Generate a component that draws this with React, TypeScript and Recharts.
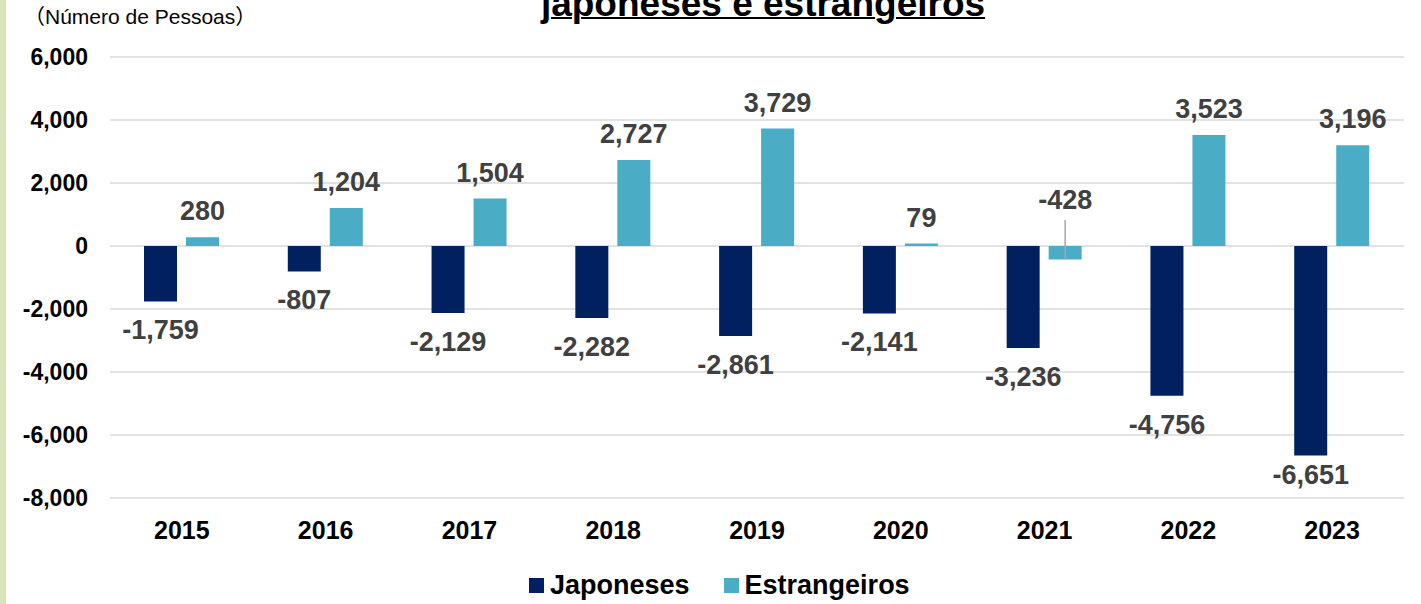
import { Bar, BarChart, CartesianGrid, LabelList, XAxis, YAxis } from "recharts";

const years = ["2015", "2016", "2017", "2018", "2019", "2020", "2021", "2022", "2023"];
const japoneses = [-1759, -807, -2129, -2282, -2861, -2141, -3236, -4756, -6651];
const estrangeiros = [280, 1204, 1504, 2727, 3729, 79, -428, 3523, 3196];
const yTicks = [-8000, -6000, -4000, -2000, 0, 2000, 4000, 6000];
const seriesNames = ["Japoneses", "Estrangeiros"];

const data = years.map((year, i) => ({ year, japoneses: japoneses[i], estrangeiros: estrangeiros[i] }));

const NAVY = "#002060";
const TEAL = "#4bacc6";
const COLORS = [NAVY, TEAL];
const FONT = '"Liberation Sans", Arial, sans-serif';
const PLOT_BOTTOM = 498;

const fmt = (v: number) => v.toLocaleString("en-US");

function ValueLabel(props: any) {
  const { x, y, width, height, value, leader } = props;
  const top = Math.min(y, y + height);
  const bottom = Math.max(y, y + height);
  const cx = x + width / 2;
  const common = {
    x: cx,
    textAnchor: "middle" as const,
    dominantBaseline: "central" as const,
    fontFamily: FONT,
    fontSize: 27,
    fontWeight: 700,
    fill: "#404040",
  };
  if (value >= 0) {
    return <text {...common} y={top - 26}>{fmt(value)}</text>;
  }
  if (leader) {
    // small negative bar: label pulled above the zero line with a leader line
    return (
      <g>
        <line x1={cx} x2={cx} y1={top - 26} y2={bottom} stroke="#a6a6a6" strokeWidth={1.5} />
        <text {...common} y={top - 46}>{fmt(value)}</text>
      </g>
    );
  }
  const off = Math.min(29, PLOT_BOTTOM - bottom - 23);
  return <text {...common} y={bottom + off}>{fmt(value)}</text>;
}

export default function App() {
  return (
    <div
      style={{
        position: "absolute",
        left: 0,
        top: 0,
        width: 1421,
        height: 604,
        overflow: "hidden",
        background: "#fff",
        fontFamily: FONT,
      }}
    >
      <BarChart
        width={1421}
        height={604}
        data={data}
        margin={{ top: 57, right: 17, left: 0, bottom: 46 }}
        barSize={33}
        barGap={9}
      >
        <CartesianGrid vertical={false} stroke="#d9d9d9" strokeWidth={1.5} />
        <XAxis
          dataKey="year"
          axisLine={false}
          tickLine={false}
          tickSize={0}
          tickMargin={23}
          height={60}
          tick={{ fill: "#000", fontSize: 25, fontWeight: 700, fontFamily: FONT }}
        />
        <YAxis
          domain={[-8000, 6000]}
          ticks={yTicks}
          width={110}
          axisLine={false}
          tickLine={false}
          tickSize={0}
          tickMargin={22}
          tickFormatter={fmt}
          tick={{ fill: "#000", fontSize: 23, fontWeight: 700, fontFamily: FONT }}
        />
        <Bar dataKey="japoneses" fill={NAVY} isAnimationActive={false}>
          <LabelList dataKey="japoneses" content={(p: any) => <ValueLabel {...p} />} />
        </Bar>
        <Bar dataKey="estrangeiros" fill={TEAL} isAnimationActive={false}>
          <LabelList dataKey="estrangeiros" content={(p: any) => <ValueLabel {...p} leader />} />
        </Bar>
      </BarChart>

      <div style={{ position: "absolute", left: 0, top: 0, width: 6, height: 604, background: "#d8e4bc" }} />

      <div
        style={{
          position: "absolute",
          left: 0,
          width: 1526,
          top: -15,
          textAlign: "center",
          fontSize: 37,
          lineHeight: "37px",
          fontWeight: 700,
          color: "#000",
          textDecoration: "underline",
          textDecorationThickness: 2,
          whiteSpace: "nowrap",
        }}
      >
        japoneses e estrangeiros
      </div>

      <div
        style={{
          position: "absolute",
          left: 24,
          top: 4,
          fontSize: 21,
          lineHeight: "26px",
          color: "#000",
          whiteSpace: "nowrap",
          fontFamily: '"Liberation Sans", Arial, "Noto Sans CJK JP", sans-serif',
        }}
      >
        （Número de Pessoas）
      </div>

      <div
        style={{
          position: "absolute",
          left: 529,
          top: 570,
          display: "flex",
          alignItems: "center",
          height: 30,
          fontSize: 27,
          fontWeight: 700,
          color: "#000",
        }}
      >
        {seriesNames.map((name, i) => (
          <div key={name} style={{ display: "flex", alignItems: "center", marginRight: 34 }}>
            <span style={{ width: 15, height: 15, background: COLORS[i], marginRight: 6 }} />
            <span>{name}</span>
          </div>
        ))}
      </div>
    </div>
  );
}
